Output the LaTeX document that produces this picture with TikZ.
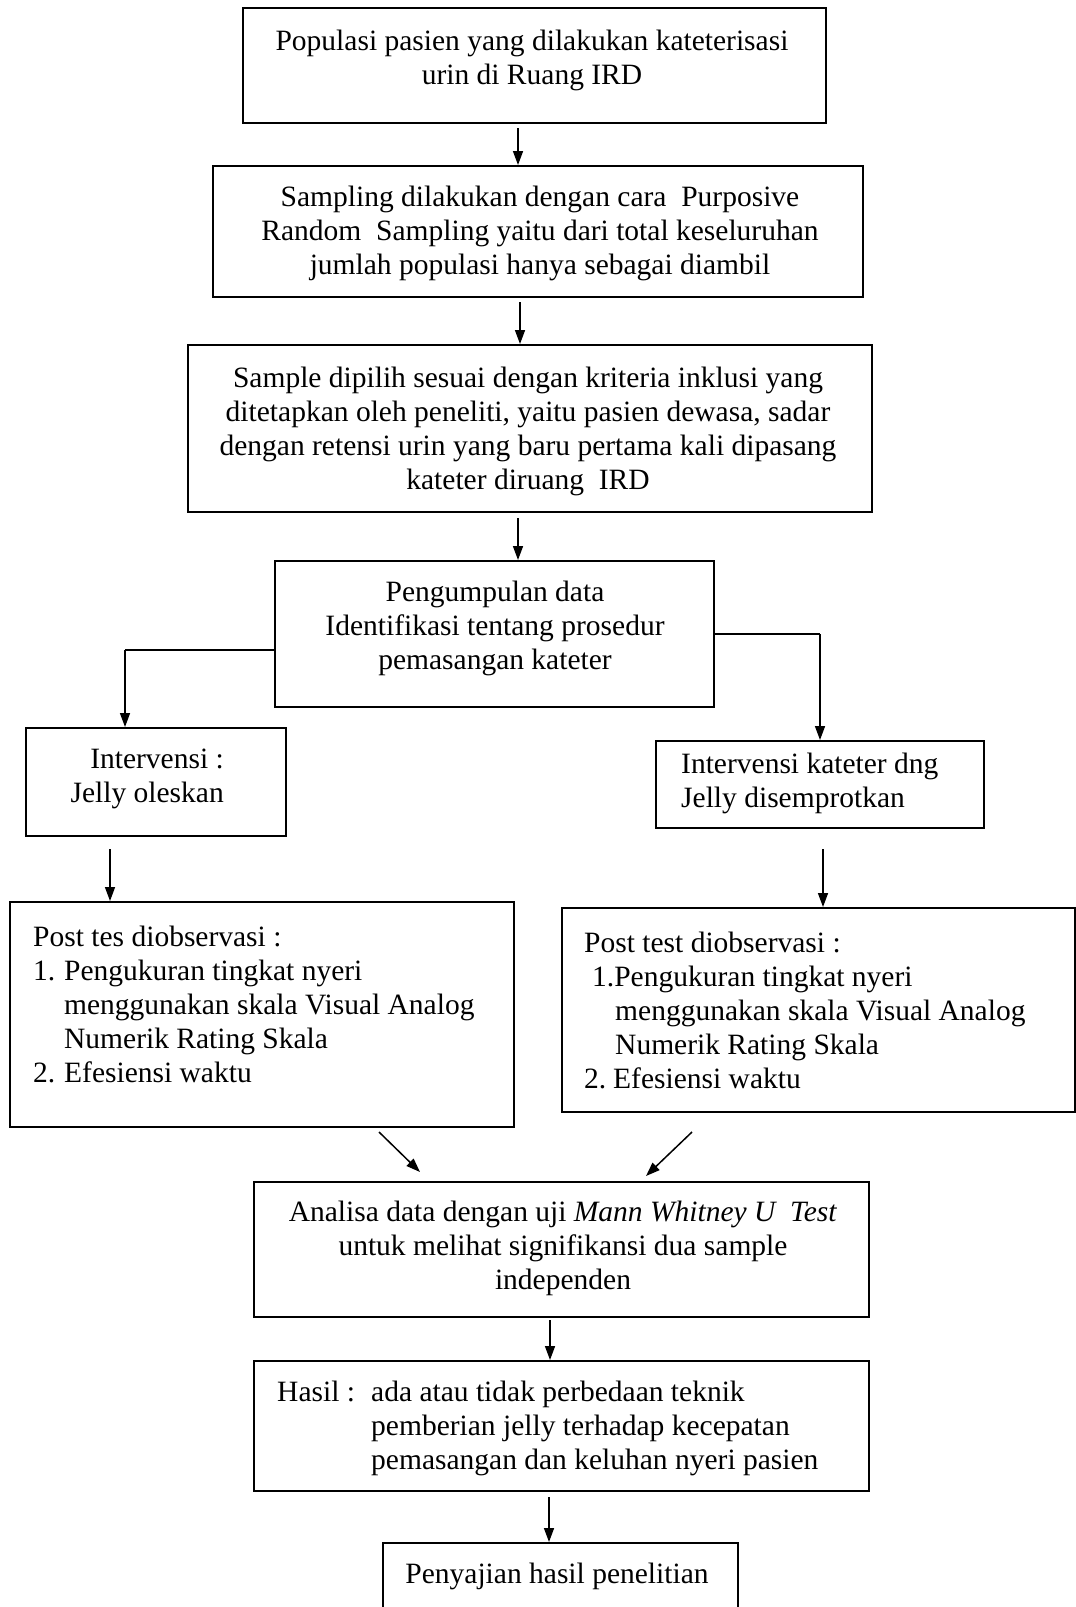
\documentclass[tikz,border=0pt]{standalone}
\usepackage{fontspec}
\setmainfont{Liberation Serif}
\usetikzlibrary{arrows.meta,fit}
\begin{document}
\begin{tikzpicture}[x=1pt,y=-1pt,
  box/.style={draw, line width=2pt, inner sep=0pt},
  txt/.style={font=\fontsize{29.5}{34}\selectfont, inner sep=0pt},
  arr/.style={-{Triangle[length=14pt,width=10pt]}, line width=1.5pt},
  conn/.style={line width=1.8pt}]
\useasboundingbox (0,0) rectangle (1076,1607);
\clip (0,0) rectangle (1076,1607);
% boxes
\node[box, fit={(243,8) (826,123)}] (b1) {};
\node[box, fit={(213,166) (863,297)}] (b2) {};
\node[box, fit={(188,345) (872,512)}] (b3) {};
\node[box, fit={(275,561) (714,707)}] (b4) {};
\node[box, fit={(26,728) (286,836)}] (b5) {};
\node[box, fit={(656,741) (984,828)}] (b6) {};
\node[box, fit={(10,902) (514,1127)}] (b7) {};
\node[box, fit={(562,908) (1075,1112)}] (b8) {};
\node[box, fit={(254,1182) (869,1317)}] (b9) {};
\node[box, fit={(254,1361) (869,1491)}] (b10) {};
\node[box, fit={(383,1543) (738,1660)}] (b11) {};
% texts
\node[txt, align=center] (t1) at (532,60) {Populasi pasien yang dilakukan kateterisasi\\urin di Ruang IRD};
\node[txt, align=center] (t2) at (540,233) {Sampling dilakukan dengan cara\ \ Purposive\\Random\ \ Sampling yaitu dari total keseluruhan\\jumlah populasi hanya sebagai diambil};
\node[txt, align=center] (t3) at (528,431) {Sample dipilih sesuai dengan kriteria inklusi yang\\ditetapkan oleh peneliti, yaitu pasien dewasa, sadar\\dengan retensi urin yang baru pertama kali dipasang\\kateter diruang\ \ IRD};
\node[txt, align=center] (t4) at (495,628) {Pengumpulan data\\Identifikasi tentang prosedur\\pemasangan kateter};
\node[txt, align=right, anchor=east] (t5) at (224,779) {Intervensi :\\Jelly oleskan};
\node[txt, align=left, anchor=west] (t6) at (681,783) {Intervensi kateter dng\\Jelly disemprotkan};
\node[txt, align=left, anchor=west] (t7) at (33,1004) {Post tes diobservasi :\\\makebox[31pt][l]{1.}Pengukuran tingkat nyeri\\\hspace*{31pt}menggunakan skala Visual Analog\\\hspace*{31pt}Numerik Rating Skala\\\makebox[31pt][l]{2.}Efesiensi waktu};
\node[txt, align=left, anchor=west] (t8) at (584,1010) {Post test diobservasi :\\\hspace*{8pt}1.Pengukuran tingkat nyeri\\\hspace*{31pt}menggunakan skala Visual Analog\\\hspace*{31pt}Numerik Rating Skala\\\makebox[29pt][l]{2.}Efesiensi waktu};
\node[txt, align=center] (t9) at (563,1248) {Analisa data dengan uji \textit{Mann Whitney U\ \ Test}\\untuk melihat signifikansi dua sample\\independen};
\node[txt, align=left, anchor=west] (t10) at (277,1428) {\makebox[94pt][l]{Hasil :}ada atau tidak perbedaan teknik\\\hspace*{94pt}pemberian jelly terhadap kecepatan\\\hspace*{94pt}pemasangan dan keluhan nyeri pasien};
\node[txt] (t11) at (557,1576) {Penyajian hasil penelitian};
% connector anchors
\coordinate (a1) at (518,128);
\coordinate (a2) at (520,302);
\coordinate (a3) at (518,518);
\coordinate (l2) at (125,650);
\coordinate (a5) at (110,849);
\coordinate (a6) at (823,849);
\coordinate (d1) at (379,1132);
\coordinate (d1e) at (420,1172);
\coordinate (d2) at (692,1132);
\coordinate (d2e) at (646,1176);
\coordinate (a9) at (550,1320);
\coordinate (a10) at (549,1497);
% connectors
\draw[arr] (a1) -- (b2.north -| a1);
\draw[arr] (a2) -- (b3.north -| a2);
\draw[arr] (a3) -- (b4.north -| a3);
\draw[conn] (b4.west |- l2) -- (l2);
\draw[arr] (l2) -- (b5.north -| l2);
\draw[conn] (b4.east) -- (b4.east -| b6.north);
\draw[arr] (b4.east -| b6.north) -- (b6.north);
\draw[arr] (a5) -- (b7.north -| a5);
\draw[arr] (a6) -- (b8.north -| a6);
\draw[arr] (d1) -- (d1e);
\draw[arr] (d2) -- (d2e);
\draw[arr] (a9) -- (b10.north -| a9);
\draw[arr] (a10) -- (b11.north -| a10);
\end{tikzpicture}
\end{document}
